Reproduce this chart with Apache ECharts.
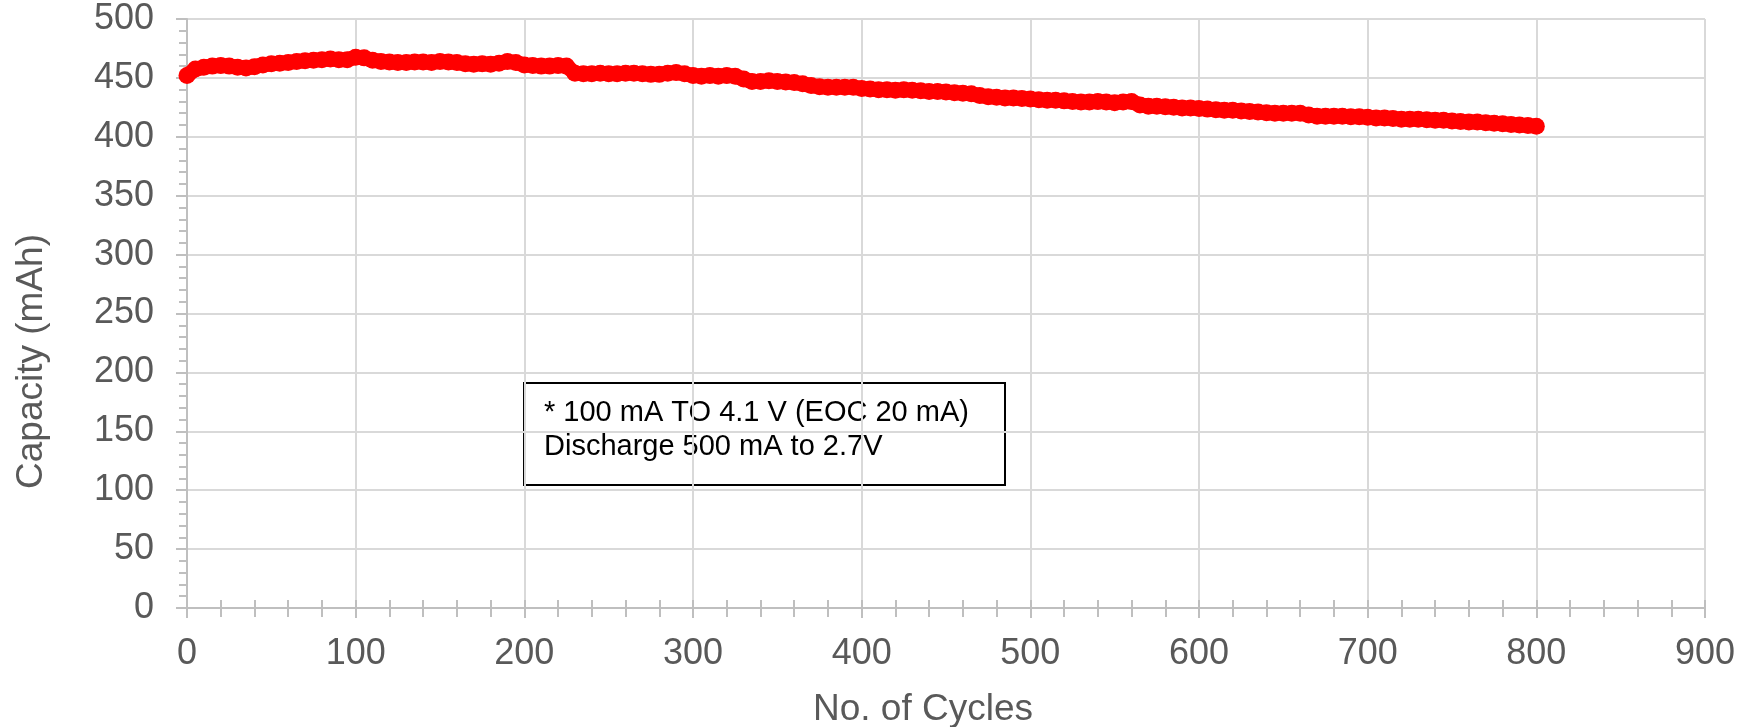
<!DOCTYPE html>
<html>
<head>
<meta charset="utf-8">
<title>Capacity vs cycles</title>
<script src="https://cdn.jsdelivr.net/npm/echarts@6/dist/echarts.min.js"></script>
<style>
  html, body { margin: 0; padding: 0; background: #fff; }
  #chart { width: 1754px; height: 727px; }
</style>
</head>
<body>
<div id="chart"></div>
<script>
// cycle numbers (every 5th cycle)
const cycles = [
  0, 5, 10, 15, 20, 25, 30, 35, 40, 45, 50, 55, 60, 65, 70, 75, 80, 85, 90, 95,
  100, 105, 110, 115, 120, 125, 130, 135, 140, 145, 150, 155, 160, 165, 170, 175, 180, 185, 190, 195,
  200, 205, 210, 215, 220, 225, 230, 235, 240, 245, 250, 255, 260, 265, 270, 275, 280, 285, 290, 295,
  300, 305, 310, 315, 320, 325, 330, 335, 340, 345, 350, 355, 360, 365, 370, 375, 380, 385, 390, 395,
  400, 405, 410, 415, 420, 425, 430, 435, 440, 445, 450, 455, 460, 465, 470, 475, 480, 485, 490, 495,
  500, 505, 510, 515, 520, 525, 530, 535, 540, 545, 550, 555, 560, 565, 570, 575, 580, 585, 590, 595,
  600, 605, 610, 615, 620, 625, 630, 635, 640, 645, 650, 655, 660, 665, 670, 675, 680, 685, 690, 695,
  700, 705, 710, 715, 720, 725, 730, 735, 740, 745, 750, 755, 760, 765, 770, 775, 780, 785, 790, 795,
  800
]
// discharge capacity in mAh
const capacity = [
  452, 457.5, 459, 460, 460.5, 460, 459, 458.5, 459.5, 461, 462, 462.5, 463, 464, 464.5, 465, 465.5, 466, 465.5, 465.5,
  467.5, 467, 465, 464, 463.5, 463, 463, 463.5, 463.5, 463, 464, 463.5, 463, 462, 461.5, 462, 461.5, 462.5, 464, 463,
  461, 460.5, 460, 460, 460.5, 460, 454, 453.5, 453.5, 454, 453.5, 453.5, 454, 454, 453.5, 453, 453, 454, 454.5, 453.5,
  452, 451.5, 452, 451.5, 452, 451.5, 449, 447, 447, 447.5, 447, 446.5, 446, 445, 443.5, 442.5, 442, 442, 442, 442,
  441, 440.5, 440, 440, 439.5, 440, 439.5, 439, 438.5, 438.5, 438, 437.5, 437, 436.5, 435, 434, 433.5, 433, 433, 432.5,
  432, 431.5, 431, 431, 430.5, 430, 429.5, 429.5, 430, 429.5, 429, 429.5, 430, 427, 426, 426, 425.5, 425, 424.5, 424.5,
  424, 423.5, 423, 422.5, 422.5, 422, 421.5, 421, 420.5, 420, 420, 420, 420, 418.5, 417.5, 417.5, 417.5, 417.5, 417, 417,
  416.5, 416, 416, 415.5, 415, 415, 415, 414.5, 414, 414, 413.5, 413, 412.5, 412.5, 412, 411.5, 411, 410.5, 410, 409.5,
  409
]

const xTicks = { min: 0, max: 900, interval: 100 }
const yTicks = { min: 0, max: 500, interval: 50 }
const noteLines = ['* 100 mA TO 4.1 V (EOC 20 mA)', 'Discharge 500 mA to 2.7V']

const fontFamily = '"Liberation Sans", Arial, sans-serif'
const labelColor = '#595959'
const axisColor = '#bfbfbf'
const gridColor = '#d9d9d9'

const chart = echarts.init(document.getElementById('chart'))

const option = {
  animation: false,
  backgroundColor: '#fff',
  textStyle: { fontFamily: fontFamily },
  grid: {
    left: 187,
    right: 49,
    top: 19,
    bottom: 119,
    containLabel: false,
    outerBoundsMode: 'none'
  },
  xAxis: [{
    type: 'value',
    min: xTicks.min,
    max: xTicks.max,
    interval: xTicks.interval,
    name: 'No. of Cycles',
    nameLocation: 'middle',
    nameGap: 83,
    nameTextStyle: { color: labelColor, fontSize: 37, fontFamily: fontFamily, padding: [0, 46, 0, 0] },
    axisLine: { show: true, lineStyle: { color: axisColor, width: 2 } },
    axisTick: { show: true, length: 10, lineStyle: { color: axisColor, width: 2 } },
    minorTick: { show: true, splitNumber: 5, length: 9, lineStyle: { color: axisColor, width: 2 } },
    axisLabel: { color: labelColor, fontSize: 36, margin: 28, fontFamily: fontFamily },
    splitLine: { show: true, lineStyle: { color: gridColor, width: 2 } }
  }, {
    // second copy of the axis, only to draw the inner half of the crossing ticks
    type: 'value',
    min: xTicks.min,
    max: xTicks.max,
    interval: xTicks.interval,
    position: 'bottom',
    axisLine: { show: false },
    axisTick: { show: true, inside: true, length: 8, lineStyle: { color: axisColor, width: 2 } },
    minorTick: { show: true, splitNumber: 5, length: 8, lineStyle: { color: axisColor, width: 2 } },
    axisLabel: { show: false },
    splitLine: { show: false }
  }],
  yAxis: {
    type: 'value',
    min: yTicks.min,
    max: yTicks.max,
    interval: yTicks.interval,
    name: 'Capacity (mAh)',
    nameLocation: 'middle',
    nameGap: 137,
    nameTextStyle: { color: labelColor, fontSize: 37, fontFamily: fontFamily, padding: [0, 96, 0, 0] },
    axisLine: { show: true, lineStyle: { color: axisColor, width: 2 } },
    axisTick: { show: true, length: 11, lineStyle: { color: axisColor, width: 2 } },
    minorTick: { show: true, splitNumber: 5, length: 8, lineStyle: { color: axisColor, width: 2 } },
    axisLabel: { color: labelColor, fontSize: 36, margin: 33, padding: [16, 0, 0, 0], fontFamily: fontFamily },
    splitLine: { show: true, lineStyle: { color: gridColor, width: 2 } }
  },
  series: [{
    name: 'Capacity',
    type: 'line',
    xAxisIndex: 0,
    data: cycles.map((c, i) => [c, capacity[i]]),
    clip: false,
    symbol: 'circle',
    symbolSize: 17,
    showAllSymbol: true,
    itemStyle: { color: '#ff0000' },
    lineStyle: { color: '#ff0000', width: 15, join: 'round', cap: 'round' }
  }],
  graphic: [{
    type: 'rect',
    left: 523,
    top: 382,
    shape: { width: 481, height: 102 },
    style: { fill: 'transparent', stroke: '#000', lineWidth: 2 }
  }, {
    type: 'text',
    left: 544,
    top: 396,
    style: {
      text: noteLines.join('\n'),
      fill: '#000',
      font: '29px ' + fontFamily,
      lineHeight: 34
    }
  }]
}

chart.setOption(option)
</script>
</body>
</html>
